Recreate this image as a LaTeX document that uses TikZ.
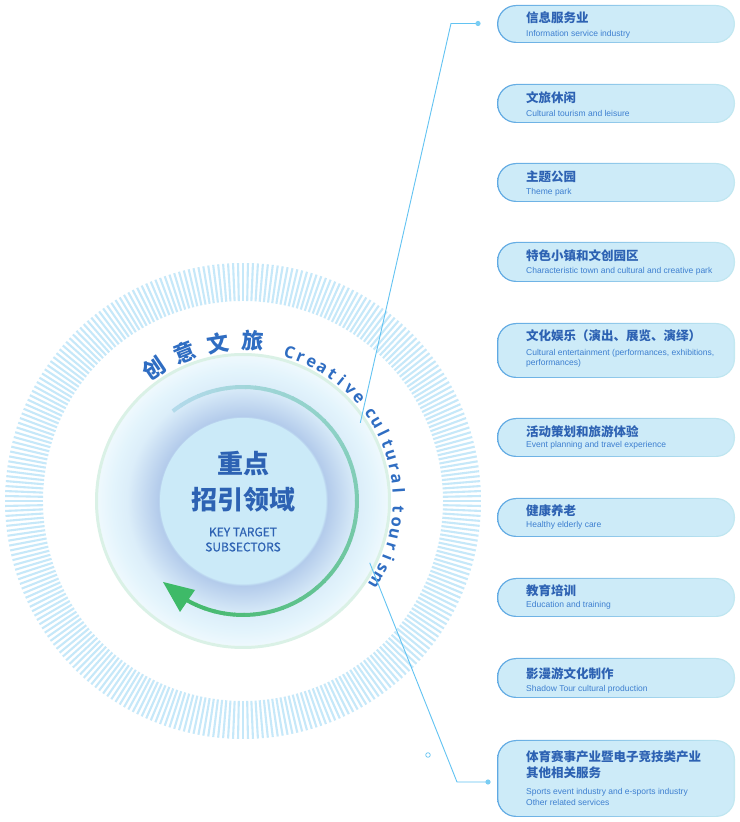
\documentclass[tikz,border=0pt]{standalone}
\usepackage{fontspec}
\setmainfont{Liberation Sans}
\newfontfamily\cjk{Noto Sans CJK SC}
\newfontfamily\cjkm{Noto Sans CJK SC}[FakeBold=0.6]
\newfontfamily\ringfont{Open Sans}
\usetikzlibrary{calc}
\definecolor{tickc}{HTML}{C6E8F9}
\definecolor{glow}{HTML}{E3F4FC}
\definecolor{halo}{HTML}{B3CBEB}
\definecolor{innerc}{HTML}{CBEAF8}
\definecolor{ringgreenc}{HTML}{DAF1E6}
\definecolor{titleblue}{HTML}{2D62B3}
\definecolor{subblue}{HTML}{3D7FD0}
\definecolor{ringblue}{HTML}{2F6DC2}
\definecolor{linec}{HTML}{62C3F2}
\definecolor{dotblue}{HTML}{7ACDF3}
\definecolor{boxfill}{HTML}{CDEBF8}
\definecolor{boxedgeL}{HTML}{5FA9E3}
\definecolor{boxedgeR}{HTML}{C4E9F1}
\definecolor{arrowg}{HTML}{3EBA68}
\definecolor{arcA}{HTML}{B2DAEA}
\definecolor{arcB}{HTML}{8ED1C6}
\definecolor{arcC}{HTML}{44B96C}
\pgfdeclareradialshading{haloshade}{\pgfpoint{0bp}{0bp}}{color(0bp)=(innerc);color(14.2bp)=(innerc);color(14.6bp)=(halo);color(16.5bp)=(halo!70!glow);color(20bp)=(glow!85!halo);color(22.5bp)=(glow);color(25bp)=(glow!60!white);color(50bp)=(white)}
\tikzset{
 tickline/.style={tickc, line width=2.1pt},
 boxouter/.style={shape=rectangle, rounded corners=19pt, left color=boxedgeL, right color=boxedgeR, minimum width=238pt, inner sep=0pt},
 boxinner/.style={shape=rectangle, rounded corners=18pt, fill=boxfill, minimum width=235.4pt, inner sep=0pt},
 ttl/.style={anchor=west, inner sep=0pt, font=\cjk\bfseries\fontsize{12.5}{16}\selectfont, text=titleblue, align=left},
 subt/.style={anchor=west, inner sep=0pt, font=\fontsize{8.5}{10.5}\selectfont, text=subblue, align=left},
 conn/.style={linec, line width=0.9pt},
 dotc/.style={fill=dotblue},
 ringzh/.style={font=\cjk\bfseries\fontsize{22}{22}\selectfont, text=ringblue, inner sep=0pt},
 ringen/.style={font=\ringfont\bfseries\fontsize{16.5}{16.5}\selectfont, text=ringblue, inner sep=0pt, anchor=base},
 ctrzh/.style={font=\cjk\bfseries\fontsize{26}{26}\selectfont, text=titleblue, inner sep=0pt},
 ctren/.style={font=\cjkm\fontsize{12}{12}\selectfont, text=titleblue, inner sep=0pt},
}
\newcommand\catbox[3]{\node[boxouter, minimum height=#3pt] (#1) at (616,#2) {};
 \node[boxinner, minimum height=#3pt-2.4pt] (#1i) at (#1) {};}
\begin{document}
\begin{tikzpicture}[x=1pt,y=1pt]
\useasboundingbox (0,0) rectangle (739,822);
\fill[white] (0,0) rectangle (739,822);
\coordinate (C) at (243,321);
% outer striped ring
\foreach \a in {0,1.2,...,359} \draw[tickline] (C) ++(\a:200) -- ++(\a:38);
% glow disk
\shade[shading=haloshade] (C) circle (145);
\draw[ringgreenc, line width=3pt] (C) circle (146.5);
\fill[innerc] (C) circle (83);
% gradient arc
\foreach \i in {0,...,17} {
 \pgfmathsetmacro\aS{128-4.89*\i}
 \pgfmathsetmacro\aE{\aS-5.4}
 \pgfmathsetmacro\p{100*\i/17}
 \draw[color=arcB!\p!arcA, line width=4pt] (C) ++(\aS:114) arc[start angle=\aS, end angle=\aE, radius=114];
}
\foreach \i in {0,...,31} {
 \pgfmathsetmacro\aS{40-4.97*\i}
 \pgfmathsetmacro\aE{\aS-5.4}
 \pgfmathsetmacro\p{100*\i/31}
 \draw[color=arcC!\p!arcB, line width=4pt] (C) ++(\aS:114) arc[start angle=\aS, end angle=\aE, radius=114];
}
\fill[arrowg] (163,240) -- (195,232) -- (180,210) -- cycle;
% center text
\node[ctrzh] (c1) at (243,358) {重点};
\node[ctrzh] (c2) at (243,322) {招引领域};
\node[ctren] (c3) at (243,290) {KEY TARGET};
\node[ctren] (c4) at (243,275) {SUBSECTORS};
% ring text
\foreach \ch/\a [count=\n] in {创/124,意/111.5,文/99,旅/86.5}
 \node[ringzh, rotate=\a-90] (zh\n) at ($(C)+(\a:160)$) {\ch};
\foreach \ch/\a [count=\n] in {C/72.6,r/68.2,e/63.8,a/59.4,t/55.0,i/50.8,v/46.4,e/41.8,c/34.6,u/30.2,l/25.8,t/21.6,u/17.2,r/12.8,a/8.4,l/4.0,t/-3.2,o/-7.8,u/-12.4,r/-17.0,i/-21.4,s/-25.8,m/-30.8}
 \node[ringen, rotate=\a-90] (en\n) at ($(C)+(\a:150)$) {\ch};
% boxes
\catbox{b1}{798}{38}
\catbox{b2}{718.5}{39}
\catbox{b3}{639.5}{39}
\catbox{b4}{560}{40}
\catbox{b5}{471.5}{55}
\catbox{b6}{384.5}{39}
\catbox{b7}{304.5}{39}
\catbox{b8}{224.5}{39}
\catbox{b9}{144}{40}
\catbox{b10}{43.5}{77}
\node[ttl] (t1) at (526,804) {信息服务业};
\node[subt] (s1t) at (526,788) {Information service industry};
\node[ttl] (t2) at (526,724) {文旅休闲};
\node[subt] (s2t) at (526,709) {Cultural tourism and leisure};
\node[ttl] (t3) at (526,645) {主题公园};
\node[subt] (s3t) at (526,630) {Theme park};
\node[ttl] (t4) at (526,566) {特色小镇和文创园区};
\node[subt] (s4t) at (526,551) {Characteristic town and cultural and creative park};
\node[ttl] (t5) at (526,486) {文化娱乐（演出、展览、演绎）};
\node[subt] (s5t) at (526,463.5) {Cultural entertainment (performances, exhibitions,\\performances)};
\node[ttl] (t6) at (526,390) {活动策划和旅游体验};
\node[subt] (s6t) at (526,377) {Event planning and travel experience};
\node[ttl] (t7) at (526,311) {健康养老};
\node[subt] (s7t) at (526,297) {Healthy elderly care};
\node[ttl] (t8) at (526,231) {教育培训};
\node[subt] (s8t) at (526,217) {Education and training};
\node[ttl] (t9) at (526,148) {影漫游文化制作};
\node[subt] (s9t) at (526,133) {Shadow Tour cultural production};
\node[ttl] (t10) at (526,57) {体育赛事产业暨电子竞技类产业\\其他相关服务};
\node[subt] (s10t) at (526,25) {Sports event industry and e-sports industry\\Other related services};
% connectors
\path (C) ++(33.7:141) coordinate (st1);
\coordinate (k1) at (451,798.5);
\coordinate (d1) at (478,798.5);
\draw[conn] (st1) -- (k1) -- (d1);
\fill[dotc] (d1) circle (2.6);
\path (C) ++(-26:141) coordinate (st2);
\coordinate (k2) at (457,40);
\coordinate (d2) at (488,40);
\draw[conn] (st2) -- (k2) -- (d2);
\fill[dotc] (d2) circle (2.6);
\draw[linec, line width=0.7pt] (428,67) circle (2.3);
\end{tikzpicture}
\end{document}
